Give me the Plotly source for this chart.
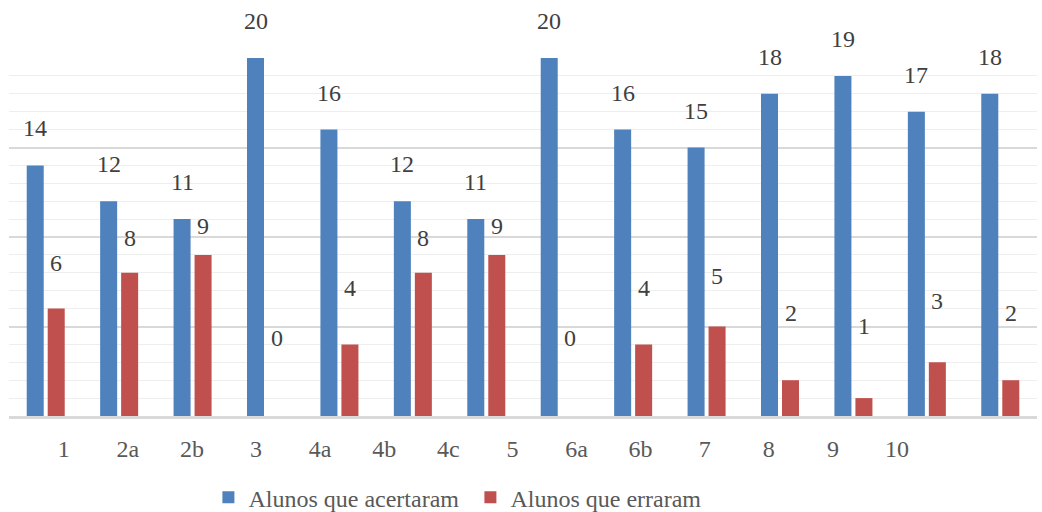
import plotly.graph_objects as go

categories = ["1", "2a", "2b", "3", "4a", "4b", "4c", "5", "6a", "6b", "7", "8", "9", "10"]
acertaram = [14, 12, 11, 20, 16, 12, 11, 20, 16, 15, 18, 19, 17, 18]
erraram = [6, 8, 9, 0, 4, 8, 9, 0, 4, 5, 2, 1, 3, 2]
series_names = ["Alunos que acertaram", "Alunos que erraram"]

BLUE = "#4F81BD"
RED = "#C0504D"
FONT = "Liberation Serif"
TXT = "#404040"
FS = 24

W, H = 1042, 512
L, R, T, B = 9, 5, 58, 96
plot_w = W - L - R

idx = list(range(len(categories)))

fig = go.Figure()
fig.add_trace(go.Bar(x=idx, y=acertaram, name=series_names[0], customdata=categories,
                     hovertemplate="%{customdata}: %{y}<extra></extra>",
                     marker=dict(color=BLUE, line=dict(width=0))))
fig.add_trace(go.Bar(x=idx, y=erraram, name=series_names[1], customdata=categories,
                     hovertemplate="%{customdata}: %{y}<extra></extra>",
                     marker=dict(color=RED, line=dict(width=0))))

# tick-label carrier axis (labels in the original are spaced differently from the bars)
fig.add_trace(go.Scatter(x=idx, y=[0] * len(categories), xaxis="x2", yaxis="y",
                         mode="markers", marker=dict(opacity=0), showlegend=False, hoverinfo="skip"))

annotations = []
for i, v in zip(idx, acertaram):
    annotations.append(dict(x=i, y=v, xref="x", yref="y", text=str(v), showarrow=False,
                            xshift=-10.5, yshift=37, yanchor="middle",
                            font=dict(family=FONT, size=FS, color=TXT)))
for i, v in zip(idx, erraram):
    annotations.append(dict(x=i, y=v, xref="x", yref="y", text=str(v), showarrow=False,
                            xshift=10.5, yshift=78 - 5.4 * v, yanchor="middle",
                            font=dict(family=FONT, size=FS, color=TXT)))

# label axis: first label centre at px 63.8, spacing 64.09 px
px_per = 64.09
r0 = -(63.8 - L) / px_per
r1 = r0 + plot_w / px_per

fig.update_layout(
    width=W, height=H,
    margin=dict(l=L, r=R, t=T, b=B),
    paper_bgcolor="white", plot_bgcolor="white",
    barmode="group", bargap=0.428, bargroupgap=0.19,
    font=dict(family=FONT, size=FS, color="#595959"),
    xaxis=dict(range=[-0.5, len(categories) - 0.5], showticklabels=False,
               showgrid=False, zeroline=False, showline=True, linecolor="#D9D9D9", linewidth=2.5, ticks="",
               domain=[0, 1], fixedrange=True),
    xaxis2=dict(range=[r0, r1], overlaying="x", anchor="y", side="bottom",
                tickvals=idx, ticktext=categories, showgrid=False,
                showline=False, zeroline=False, ticks="", ticklabelstandoff=16,
                tickfont=dict(family=FONT, size=FS, color="#595959")),
    yaxis=dict(range=[0, 20], showticklabels=False, zeroline=False, showline=False,
               dtick=5, gridcolor="#D9D9D9", gridwidth=1.5,
               minor=dict(dtick=1, showgrid=True, gridcolor="#EEEEEE", gridwidth=1)),
    legend=dict(orientation="h", xref="container", yref="container", x=0.2, y=0.028,
                xanchor="left", yanchor="middle", entrywidth=217, entrywidthmode="pixels",
                font=dict(family=FONT, size=FS, color="#595959"),
                bgcolor="rgba(0,0,0,0)"),
    annotations=annotations,
)

fig.write_html("out.html")
